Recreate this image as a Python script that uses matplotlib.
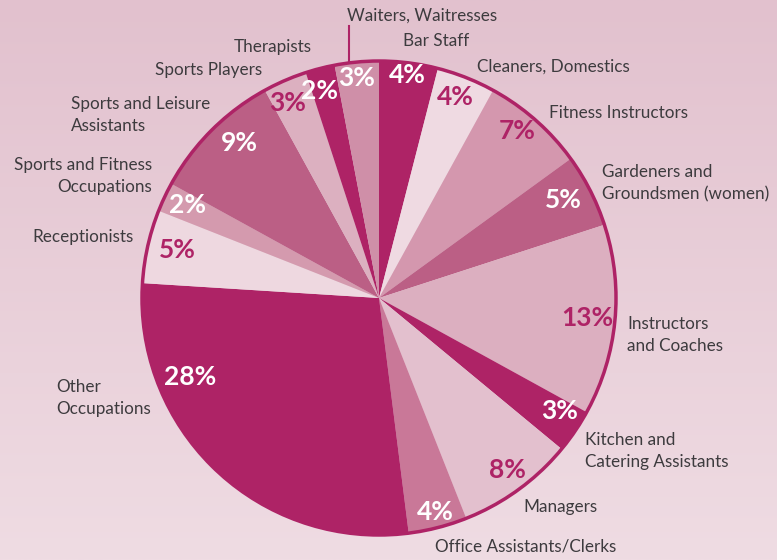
import numpy as np
import matplotlib.pyplot as plt

# occupations, clockwise from 12 o'clock
labels = ['Bar Staff', 'Cleaners, Domestics', 'Fitness Instructors',
          'Gardeners and\nGroundsmen (women)', 'Instructors\nand Coaches',
          'Kitchen and\nCatering Assistants', 'Managers', 'Office Assistants/Clerks',
          'Other\nOccupations', 'Receptionists', 'Sports and Fitness\nOccupations',
          'Sports and Leisure\nAssistants', 'Sports Players', 'Therapists',
          'Waiters, Waitresses']
shares = [4, 4, 7, 5, 13, 3, 8, 4, 28, 5, 2, 9, 3, 2, 3]

dark = '#ae2366'
colors = [dark, '#efdae2', '#d497ae', '#bb5f85', '#dcafc0', dark, '#e3c0ce',
          '#c97898', dark, '#eed8e0', '#d49aae', '#bb5f85', '#dcb0c0', dark, '#cf8fa8']
pct_colors = ['white', dark, dark, 'white', dark, 'white', dark, 'white',
              'white', dark, 'white', 'white', dark, 'white', 'white']

# layout in pixel coords (y from top)
pct_pos = [(407, 75), (455, 97), (517, 131), (563, 200), (587, 318), (560, 411),
           (507, 470), (435, 512), (190, 377), (177, 250), (188, 205), (239, 143),
           (288, 103), (320, 91), (357, 78)]
lab_pos = [(403, 41, 'left'), (477, 67, 'left'), (549, 113, 'left'), (602, 183, 'left'),
           (627, 335, 'left'), (585, 451, 'left'), (523, 507, 'left'), (435, 547, 'left'),
           (56, 398, 'left'), (134, 237, 'right'), (152, 176, 'right'), (71, 115, 'left'),
           (262, 70, 'right'), (312, 47, 'right'), (347, 16, 'left')]

W, H = 777, 560
fig = plt.figure(figsize=(W / 100, H / 100), dpi=100)
ax = fig.add_axes([0, 0, 1, 1])

# pink vertical gradient background
top = np.array([0xe2, 0xc1, 0xce]) / 255
bot = np.array([0xef, 0xdc, 0xe3]) / 255
t = np.linspace(0, 1, 256)[:, None]
grad = (top * (1 - t) + bot * t)[:, None, :]
ax.imshow(grad, extent=(0, W, 0, H), aspect='auto', zorder=0)

cx, cy, r = 379, H - 298, 237
ax.pie(shares, colors=colors, startangle=90, counterclock=False,
       center=(cx, cy), radius=r, frame=True,
       wedgeprops=dict(linewidth=0, zorder=1))
ax.add_patch(plt.Circle((cx, cy), r, fill=False, ec=dark, lw=2.5, zorder=2))
ax.set_xlim(0, W)
ax.set_ylim(0, H)
ax.axis('off')

for s, (x, y), c in zip(shares, pct_pos, pct_colors):
    ax.text(x, H - y, f'{s}%', color=c, fontsize=19, fontweight='bold',
            family='Lato', ha='center', va='center', zorder=3)

for lab, (x, y, ha) in zip(labels, lab_pos):
    ax.text(x, H - y, lab, color='#3d3b3e', fontsize=12.3, family='Lato',
            ha=ha, va='center', linespacing=1.45, zorder=3)

# leader line for Waiters
ax.plot([349, 349], [H - 26, H - 61], color=dark, lw=1.5, zorder=3)

fig.savefig('out.png', dpi=100)
